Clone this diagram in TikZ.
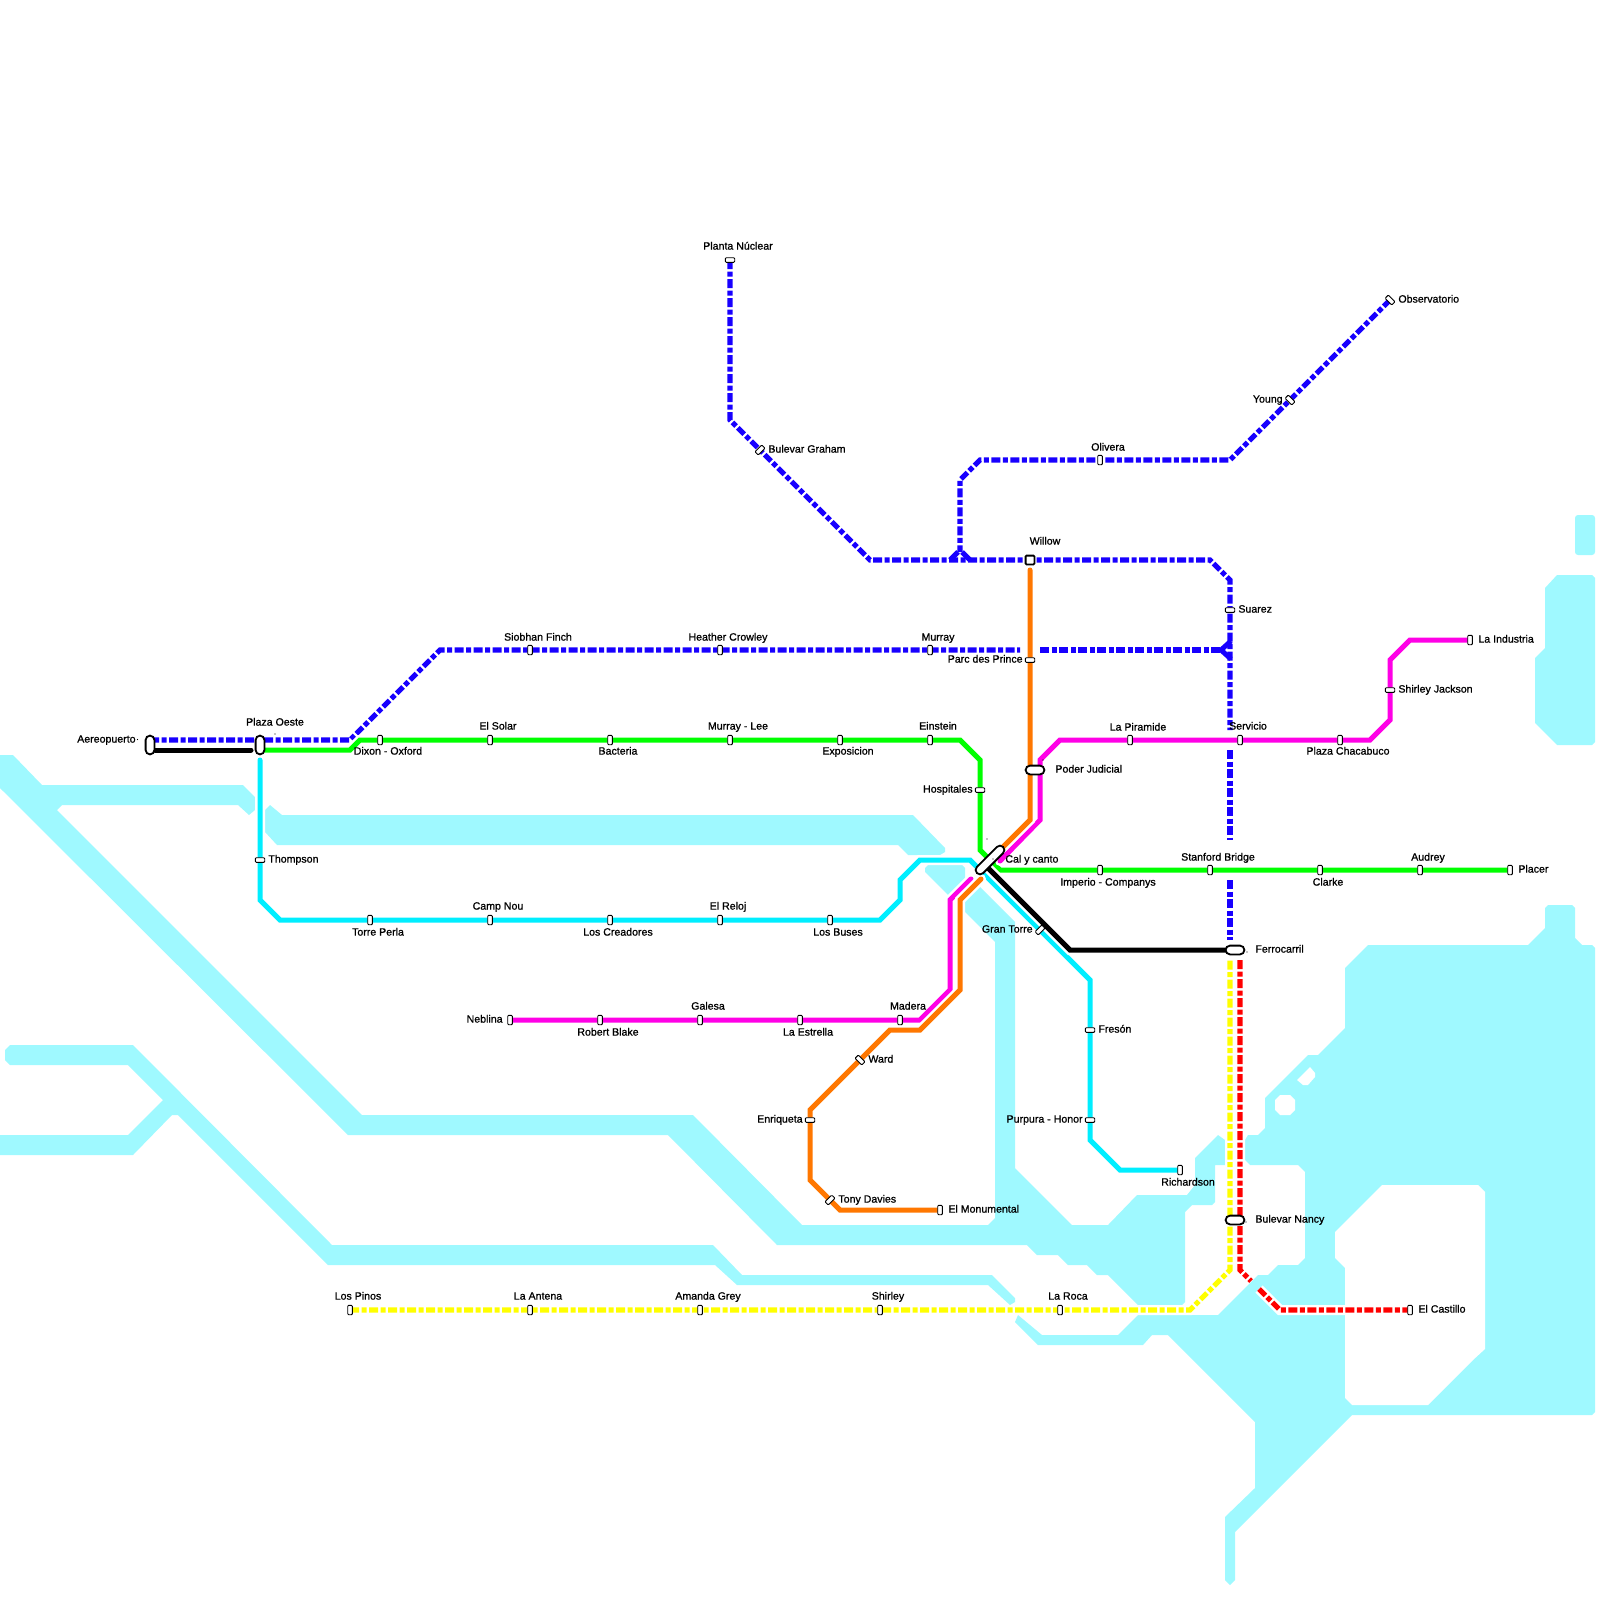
\documentclass[tikz,border=0pt]{standalone}
\usepackage{fontspec}
\newfontfamily\labfont{Liberation Sans}[FakeBold=0.9]
\pgfdeclarelayer{waterlayer}
\pgfdeclarelayer{linelayer}
\pgfsetlayers{waterlayer,linelayer,main}
\definecolor{water}{HTML}{9FF9FF}
\definecolor{lblue}{HTML}{1800FF}
\definecolor{lgreen}{HTML}{00FF00}
\definecolor{lcyan}{HTML}{00EEFF}
\definecolor{lmag}{HTML}{FF00E6}
\definecolor{lorange}{HTML}{FF7700}
\definecolor{lyellow}{HTML}{FFFF00}
\definecolor{lred}{HTML}{FF0000}
\tikzset{
  wat/.style={fill=water,draw=none},
  hole/.style={fill=white,draw=none},
  stv/.style={rectangle,draw=black,fill=white,line width=.45pt,rounded corners=.45pt,minimum width=2.3pt,minimum height=4.7pt,inner sep=0pt},
  sth/.style={stv,rotate=90},
  std/.style={stv,rotate=-45},
  stb/.style={stv,rotate=45},
  pill/.style={rectangle,draw=black,fill=white,line width=.9pt,rounded corners=2.2pt,minimum width=4.4pt,minimum height=9.4pt,inner sep=0pt},
  pillh/.style={pill,rotate=90},
  hub/.style={pill,rotate=-45,minimum height=18.5pt},
  sq/.style={rectangle,draw=black,fill=white,line width=.9pt,rounded corners=.5pt,minimum width=4.4pt,minimum height=4.4pt,inner sep=0pt},
  lab/.style={font=\labfont\fontsize{5.3}{6}\selectfont,inner sep=0pt,text height=3.6pt,text depth=0pt},
  casing/.style={draw=white,line width=5pt,line join=miter,line cap=round},
  solid line/.style={line width=2.5pt,line join=miter,line cap=round},
  dash line/.style={line width=2.6pt,line join=miter,line cap=butt,dash pattern=on 4.5pt off 1.25pt on 2.5pt off 1.25pt},
}
\newcommand{\Stn}[6]{%
  \node[#2] (#1) at (#3) {};
  \node[lab,#4] (L#1) at (#5) {#6};
}
\newcommand{\CasedDash}[2]{%
  \draw[casing,line cap=butt] #2;
  \draw[dash line,draw=#1] #2;
}
\newcommand{\CasedSolid}[2]{%
  \draw[casing] #2;
  \draw[solid line,draw=#1] #2;
}
\begin{document}
\begin{tikzpicture}[x=0.5pt,y=-0.5pt]
\useasboundingbox (0,0) rectangle (1600,1600);

% ---------- stations and labels ----------
\Stn{Aero}{pill}{150,745}{anchor=east}{136,739}{Aereopuerto}
\Stn{PlazaOeste}{pill}{260,745}{}{275,722}{Plaza Oeste}
\Stn{Dixon}{stv}{380,740}{}{388,751}{Dixon - Oxford}
\Stn{ElSolar}{stv}{490,740}{}{498,726}{El Solar}
\Stn{Bacteria}{stv}{610,740}{}{618,751}{Bacteria}
\Stn{MurrayLee}{stv}{730,740}{}{738,726}{Murray - Lee}
\Stn{Exposicion}{stv}{840,740}{}{848,751}{Exposicion}
\Stn{Einstein}{stv}{930,740}{}{938,726}{Einstein}
\Stn{Hospitales}{sth}{980,790}{anchor=east}{973,789}{Hospitales}
\Stn{Cal}{hub}{990,860}{anchor=west}{1005,859}{Cal y canto}
\Stn{Imperio}{stv}{1100,870}{}{1108,882}{Imperio - Companys}
\Stn{Stanford}{stv}{1210,870}{}{1218,857}{Stanford Bridge}
\Stn{Clarke}{stv}{1320,870}{}{1328,882}{Clarke}
\Stn{Audrey}{stv}{1420,870}{}{1428,857}{Audrey}
\Stn{Placer}{stv}{1510,870}{anchor=west}{1518,869}{Placer}
\Stn{Thompson}{sth}{260,860}{anchor=west}{268,859}{Thompson}
\Stn{TorrePerla}{stv}{370,920}{}{378,932}{Torre Perla}
\Stn{CampNou}{stv}{490,920}{}{498,906}{Camp Nou}
\Stn{Creadores}{stv}{610,920}{}{618,932}{Los Creadores}
\Stn{Reloj}{stv}{720,920}{}{728,906}{El Reloj}
\Stn{Buses}{stv}{830,920}{}{838,932}{Los Buses}
\Stn{Siobhan}{stv}{530,650}{}{538,637}{Siobhan Finch}
\Stn{Heather}{stv}{720,650}{}{728,637}{Heather Crowley}
\Stn{Murray}{stv}{930,650}{}{938,637}{Murray}
\Stn{Parc}{sth}{1030,660}{anchor=east}{1023,659}{Parc des Prince}
\Stn{Suarez}{sth}{1230,610}{anchor=west}{1238,609}{Suarez}
\Stn{Willow}{sq}{1030,560}{}{1045,541}{Willow}
\Stn{Poder}{pillh}{1035,770}{anchor=west}{1055,769}{Poder Judicial}
\Stn{Planta}{sth}{730,260}{}{738,246}{Planta Núclear}
\Stn{Graham}{std}{760,450}{anchor=west}{768,449}{Bulevar Graham}
\Stn{Olivera}{stv}{1100,460}{}{1108,447}{Olivera}
\Stn{Young}{stb}{1290,400}{anchor=east}{1283,399}{Young}
\Stn{Observatorio}{stb}{1390,300}{anchor=west}{1398,299}{Observatorio}
\Stn{Piramide}{stv}{1130,740}{}{1138,727}{La Piramide}
\Stn{Servicio}{stv}{1240,740}{}{1248,726}{Servicio}
\Stn{Chacabuco}{stv}{1340,740}{}{1348,751}{Plaza Chacabuco}
\Stn{ShirleyJ}{sth}{1390,690}{anchor=west}{1398,689}{Shirley Jackson}
\Stn{Industria}{stv}{1470,640}{anchor=west}{1478,639}{La Industria}
\Stn{Ferrocarril}{pillh}{1235,950}{anchor=west}{1255,949}{Ferrocarril}
\Stn{Nancy}{pillh}{1235,1220}{anchor=west}{1255,1219}{Bulevar Nancy}
\Stn{GranTorre}{std}{1040,930}{anchor=east}{1033,929}{Gran Torre}
\Stn{Freson}{sth}{1090,1030}{anchor=west}{1098,1029}{Fresón}
\Stn{Purpura}{sth}{1090,1120}{anchor=east}{1083,1119}{Purpura - Honor}
\Stn{Richardson}{stv}{1180,1170}{}{1188,1182}{Richardson}
\Stn{Neblina}{stv}{510,1020}{anchor=east}{503,1019}{Neblina}
\Stn{RobertBlake}{stv}{600,1020}{}{608,1032}{Robert Blake}
\Stn{Galesa}{stv}{700,1020}{}{708,1006}{Galesa}
\Stn{Estrella}{stv}{800,1020}{}{808,1032}{La Estrella}
\Stn{Madera}{stv}{900,1020}{}{908,1006}{Madera}
\Stn{Ward}{stb}{860,1060}{anchor=west}{868,1059}{Ward}
\Stn{Enriqueta}{sth}{810,1120}{anchor=east}{803,1119}{Enriqueta}
\Stn{Tony}{std}{830,1200}{anchor=west}{838,1199}{Tony Davies}
\Stn{Monumental}{stv}{940,1210}{anchor=west}{948,1209}{El Monumental}
\Stn{LosPinos}{stv}{350,1310}{}{358,1296}{Los Pinos}
\Stn{Antena}{stv}{530,1310}{}{538,1296}{La Antena}
\Stn{Amanda}{stv}{700,1310}{}{708,1296}{Amanda Grey}
\Stn{Shirley}{stv}{880,1310}{}{888,1296}{Shirley}
\Stn{LaRoca}{stv}{1060,1310}{}{1068,1296}{La Roca}
\Stn{Castillo}{stv}{1410,1310}{anchor=west}{1418,1309}{El Castillo}

% tiny marks printed beside some labels
\fill (137.5,739.5) circle[radius=.7];
\fill (275,734) circle[radius=.7];
\fill (987,839) circle[radius=.7];
\fill (993,859) circle[radius=.7];
\fill (1043,760) circle[radius=.7];
\fill (1247,952) circle[radius=.7];
\fill (1246,1222) circle[radius=.7];

% ---------- free line ends ----------
\coordinate (bA) at (1020,650);
\coordinate (bB) at (1040,650);
\coordinate (bC) at (1220,650);
\coordinate (bD) at (1230,730);
\coordinate (bE) at (1230,750);
\coordinate (bF) at (1230,840);
\coordinate (bG) at (1230,880);
\coordinate (bH) at (1230,940);
\coordinate (bI) at (960,552);
\coordinate (cyS) at (260,760);
\coordinate (mA) at (1000,861);
\coordinate (mB) at (971,879);
\coordinate (oA) at (1030,570);
\coordinate (oB) at (1003,847);
\coordinate (oC) at (981,879);
\coordinate (kA) at (155,750);
\coordinate (kB) at (251,750);
\coordinate (kC) at (986,866);
\coordinate (yA) at (1230,960);
\coordinate (rA) at (1240,960);
\coordinate (rB) at (1251,1281);
\coordinate (rC) at (1259,1289);

% ---------- water ----------
\begin{pgfonlayer}{waterlayer}
\path[wat] (0,755)--(13,755)--(42,785)--(243,785)--(255,797)--(255,810)--(249,815)--(238,805)--(62,805)--(57,810)--(362,1115)--(693,1115)--(802,1225)--(988,1225)--(995,1218)--(995,942)--(965,912)--(965,897)--(978,885)--(1015,922)--(1015,1168)--(1072,1225)--(1108,1225)--(1137,1195)--(1187,1195)--(1195,1185)--(1195,1158)--(1218,1135)--(1225,1140)--(1225,1165)--(1215,1165)--(1215,1202)--(1212,1205)--(1192,1205)--(1185,1212)--(1185,1302)--(1182,1305)--(1138,1305)--(1108,1275)--(1097,1275)--(1087,1265)--(1068,1265)--(1058,1255)--(1037,1255)--(1027,1245)--(777,1245)--(668,1135)--(348,1135)--(0,788)--cycle;
\path[wat] (925,868)--(928,865)--(962,865)--(965,868)--(965,880)--(950,897)--(925,872)--cycle;
\path[wat] (265,810)--(270,805)--(282,815)--(913,815)--(945,848)--(945,852)--(940,855)--(908,855)--(898,845)--(277,845)--(265,832)--cycle;
\path[wat] (5,1050)--(10,1045)--(133,1045)--(332,1245)--(713,1245)--(742,1275)--(992,1275)--(1015,1298)--(1015,1302)--(1010,1305)--(988,1285)--(737,1285)--(715,1265)--(328,1265)--(178,1115)--(172,1115)--(133,1155)--(0,1155)--(0,1135)--(128,1135)--(163,1100)--(128,1065)--(10,1065)--(5,1060)--cycle;
\path[wat] (1015,1322)--(1018,1315)--(1042,1335)--(1118,1335)--(1138,1315)--(1218,1315)--(1258,1275)--(1268,1275)--(1278,1265)--(1298,1265)--(1305,1258)--(1305,1172)--(1298,1165)--(1250,1165)--(1245,1160)--(1245,1140)--(1248,1135)--(1258,1135)--(1265,1128)--(1265,1098)--(1308,1055)--(1318,1055)--(1345,1028)--(1345,968)--(1368,945)--(1528,945)--(1545,928)--(1545,908)--(1548,905)--(1572,905)--(1575,908)--(1575,938)--(1582,945)--(1592,945)--(1595,948)--(1595,1412)--(1592,1415)--(1352,1415)--(1235,1532)--(1235,1580)--(1230,1585)--(1225,1580)--(1225,1517)--(1255,1488)--(1255,1422)--(1168,1335)--(1152,1335)--(1143,1345)--(1038,1345)--cycle;
\path[hole] (1345,1302)--(1345,1398)--(1352,1405)--(1428,1405)--(1473,1360)--(1485,1349)--(1485,1192)--(1478,1185)--(1382,1185)--(1335,1232)--(1335,1258)--(1345,1268)--cycle;
\path[hole] (1280,1095)--(1290,1095)--(1295,1100)--(1295,1110)--(1290,1115)--(1280,1115)--(1275,1110)--(1275,1100)--cycle;
\path[hole] (1310,1067)--(1315,1073)--(1315,1077)--(1308,1085)--(1303,1085)--(1297,1080)--cycle;
\path[wat,rounded corners=1.5pt] (1575,515) rectangle (1595,555);
\path[wat] (1545,588)--(1557,575)--(1592,575)--(1595,578)--(1595,742)--(1592,745)--(1557,745)--(1535,723)--(1535,658)--(1545,648)--cycle;
\end{pgfonlayer}

% ---------- lines ----------
\begin{pgfonlayer}{linelayer}
% blue
\CasedDash{lblue}{(Aero.center) ++(0,-5) -- (350,740) -- (440,650) -- (bA)}
\CasedDash{lblue}{(bB) -- (bC)}
\CasedDash{lblue}{(Planta.center) -- (730,420) -- (Graham.center) -- (870,560) -- (Willow.center) -- (1210,560) -- (1230,580) -- (Suarez.center) -- (bD)}
\CasedDash{lblue}{(bE) -- (bF)}
\CasedDash{lblue}{(bG) -- (bH)}
\CasedDash{lblue}{(Observatorio.center) -- (Young.center) -- (1230,460) -- (Olivera.center) -- (980,460) -- (960,480) -- (bI)}
\draw[line width=2.5pt,draw=lblue] (950,560) -- (958,552);
\draw[line width=2.5pt,draw=lblue] (962,552) -- (970,560);
\draw[line width=2.5pt,draw=lblue,line join=miter] (1231,641) -- (1221,650) -- (1231,659);
% yellow
\CasedDash{lyellow}{(LosPinos.center) -- (1190,1310) -- (1230,1270) -- (yA)}
% red
\CasedDash{lred}{(rA) -- (1240,1270) -- (rB)}
\CasedDash{lred}{(rC) -- (1280,1310) -- (Castillo.center)}
% cyan
\CasedSolid{lcyan}{(cyS) -- (260,900) -- (280,920) -- (880,920) -- (900,900) -- (900,880) -- (920,860) -- (970,860) -- (1090,980) -- (1090,1140) -- (1120,1170) -- (Richardson.center)}
% green
\CasedSolid{lgreen}{(PlazaOeste.center) ++(0,5) -- (350,750) -- (360,740) -- (960,740) -- (980,760) -- (980,850) -- (1000,870) -- (Placer.center)}
% magenta
\CasedSolid{lmag}{(Industria.center) -- (1410,640) -- (1390,660) -- (1390,720) -- (1370,740) -- (1060,740) -- (1040,760) -- (1040,820) -- (mA)}
\CasedSolid{lmag}{(mB) -- (950,900) -- (950,990) -- (920,1020) -- (Neblina.center)}
% orange
\CasedSolid{lorange}{(oA) -- (1030,820) -- (oB)}
\CasedSolid{lorange}{(oC) -- (960,900) -- (960,990) -- (920,1030) -- (890,1030) -- (810,1110) -- (810,1180) -- (840,1210) -- (Monumental.center)}
% black
\CasedSolid{black}{(kA) -- (kB)}
\CasedSolid{black}{(kC) -- (1070,950) -- (Ferrocarril.center)}
\end{pgfonlayer}
\end{tikzpicture}
\end{document}
